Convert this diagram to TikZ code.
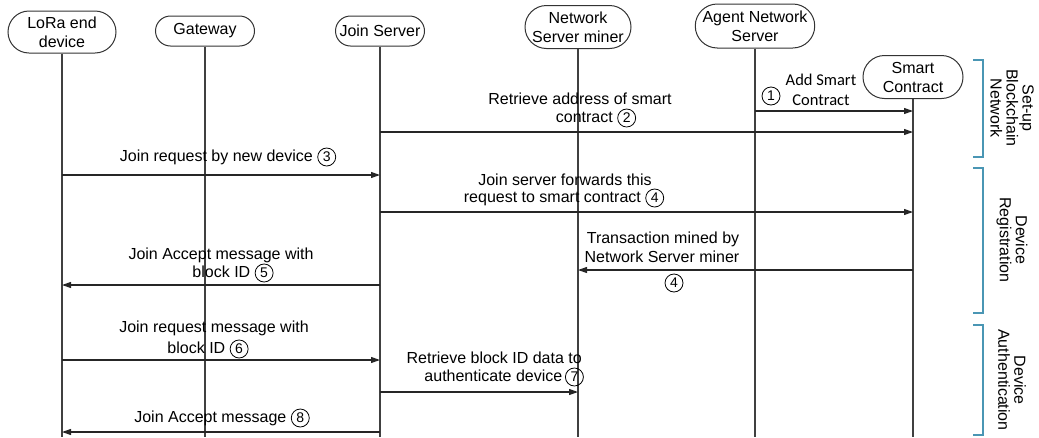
\documentclass[tikz,border=0pt]{standalone}
\usepackage{fontspec}
\setmainfont{Liberation Sans}
\newfontfamily\calfont{Carlito}
\usetikzlibrary{arrows.meta,shapes.misc}
\definecolor{brkcol}{RGB}{74,150,180}
\newcommand\cnum[1]{\tikz[baseline=(cn.base)]\node[draw,circle,line width=0.8pt,inner sep=0pt,minimum size=18pt,font=\fontsize{14}{14}\selectfont](cn){#1};}
\tikzset{
  actor/.style={draw=black!80,line width=1pt,rounded rectangle,align=center,inner sep=1pt,font=\fontsize{16}{19}\selectfont},
  life/.style={draw=black!75,line width=1.1pt},
  msg/.style={draw=black!85,line width=1.1pt,-{Triangle[length=9pt,width=6pt]}},
  lbl/.style={inner sep=0pt,font=\fontsize{16}{18}\selectfont},
  cal/.style={inner sep=0pt,font=\calfont\fontsize{16.5}{20}\selectfont},
  brk/.style={draw=brkcol,line width=1.1pt},
  phase/.style={rotate=-90,align=center,inner sep=0pt,font=\fontsize{16}{16}\selectfont}
}
\begin{document}
\begin{tikzpicture}[x=1pt,y=-1pt]
\useasboundingbox (0,0) rectangle (1039,437);
% actors
\node[actor,minimum width=110pt,minimum height=42pt] (lora) at (62,32) {LoRa end\\device};
\node[actor,minimum width=101pt,minimum height=30pt] (gw) at (205,31) {Gateway};
\node[actor,minimum width=91pt,minimum height=30pt] (js) at (380,31) {Join Server};
\node[actor,minimum width=108pt,minimum height=43pt] (nsm) at (578,27) {Network\\Server miner};
\node[actor,minimum width=116pt,minimum height=44pt] (ans) at (755,26) {Agent Network\\Server};
\node[actor,minimum width=102pt,minimum height=43pt] (sc) at (913,77) {Smart\\Contract};
% lifelines
\foreach \n in {lora,gw,js,nsm,ans,sc}{\draw[life] (\n.south) -- (\n.south |- 0,437);}
% messages
\draw[msg] (ans.south |- 0,111) -- (sc.south |- 0,111);
\draw[msg] (js.south |- 0,132) -- (sc.south |- 0,132);
\draw[msg] (lora.south |- 0,175) -- (js.south |- 0,175);
\draw[msg] (js.south |- 0,212) -- (sc.south |- 0,212);
\draw[msg] (sc.south |- 0,270) -- (nsm.south |- 0,270);
\draw[msg] (js.south |- 0,285) -- (lora.south |- 0,285);
\draw[msg] (lora.south |- 0,360) -- (js.south |- 0,360);
\draw[msg] (js.south |- 0,392) -- (nsm.south |- 0,392);
\draw[msg] (js.south |- 0,432) -- (lora.south |- 0,432);
% labels
\node[cal] (add1) at (821,80) {Add Smart};
\node[cal] (add2) at (821,100) {Contract};
\node[inner sep=0pt] (c1) at (771,96) {\cnum{1}};
\node[lbl] (r2a) at (580,99) {Retrieve address of smart};
\node[lbl] (r2b) at (596,118) {contract \cnum{2}};
\node[lbl] (j3) at (228,157) {Join request by new device \cnum{3}};
\node[lbl] (f4a) at (565,180) {Join server forwards this};
\node[lbl] (f4b) at (564,198) {request to smart contract \cnum{4}};
\node[lbl] (t5a) at (663,239) {Transaction mined by};
\node[lbl] (t5b) at (662,257) {Network Server miner};
\node[inner sep=0pt] (t5c) at (674,283) {\cnum{4}};
\node[lbl] (a5a) at (221,255) {Join Accept message with};
\node[lbl] (a5b) at (233,273) {block ID \cnum{5}};
\node[lbl] (q6a) at (214,328) {Join request message with};
\node[lbl] (q6b) at (208,349) {block ID \cnum{6}};
\node[lbl,anchor=east] (r7a) at (582,358) {Retrieve block ID data to};
\node[lbl,anchor=east] (r7b) at (584,377) {authenticate device\,\cnum{7}};
\node[lbl] (a8) at (222,418) {Join Accept message \cnum{8}};
% phases
\draw[brk] (973,60) -- (983,60) -- (983,157) -- (973,157);
\draw[brk] (973,168) -- (983,168) -- (983,313) -- (973,313);
\draw[brk] (973,325) -- (983,325) -- (983,435) -- (973,435);
\node[phase] (p1) at (1012,108) {Set-up\\Blockchain\\Network};
\node[phase] (p2) at (1012,240) {Device\\Registration};
\node[phase] (p3) at (1012,380) {Device\\Authentication};
\end{tikzpicture}
\end{document}
